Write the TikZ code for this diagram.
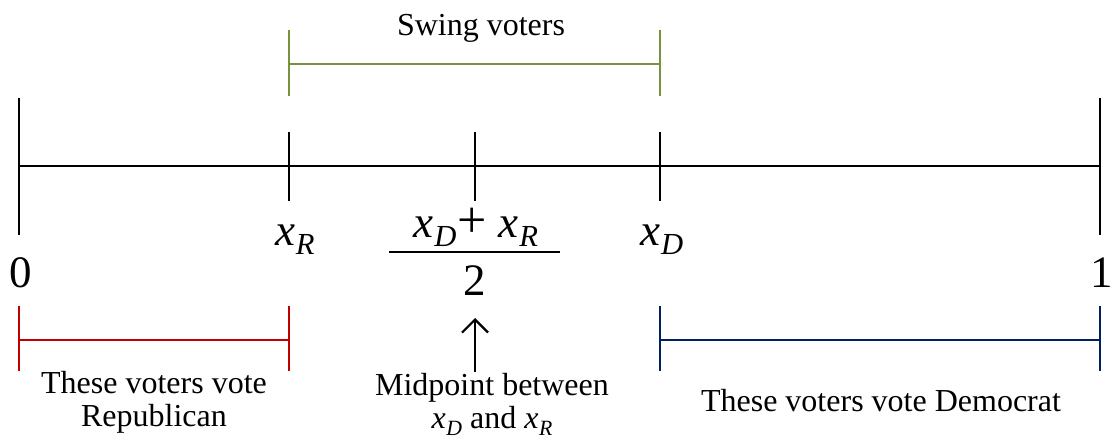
\documentclass[tikz,border=0pt]{standalone}
\usepackage{fontspec}
\setmainfont{Liberation Serif}
\usetikzlibrary{arrows.meta}
\definecolor{swingc}{HTML}{77933C}
\definecolor{repc}{HTML}{C00000}
\definecolor{demc}{HTML}{002060}
\newcommand\varx[2]{{\fontsize{#2}{#2}\selectfont\textit{x}\kern0.5pt\raisebox{-0.22em}{\fontsize{0.68\dimexpr#2pt\relax}{1pt}\selectfont\textit{#1}}}}
\begin{document}
\begin{tikzpicture}[x=1pt,y=-1pt,
  axisline/.style={line width=2.8pt, black},
  bar/.style={line width=2.8pt},
  lbl/.style={font=\fontsize{32}{36}\selectfont, inner sep=0pt, anchor=base},
  mlbl/.style={font=\fontsize{45}{48}\selectfont, inner sep=0pt, anchor=base}]
\useasboundingbox[fill=white] (0,0) rectangle (1114,441);

% axis
\coordinate (a0) at (19,166);
\coordinate (a1) at (1100,166);
\draw[axisline] (a0) -- (a1);
\draw[axisline] (19,98) coordinate (t0a) -- (19,235) coordinate (t0b);
\draw[axisline] (1100,98) coordinate (t1a) -- (1100,235) coordinate (t1b);
\draw[axisline] (289,132) coordinate (tRa) -- (289,201) coordinate (tRb);
\draw[axisline] (475,132) coordinate (tMa) -- (475,201) coordinate (tMb);
\draw[axisline] (660,132) coordinate (tDa) -- (660,201) coordinate (tDb);

% labels on axis
\node[mlbl] (zero) at (21,287) {0};
\node[mlbl] (one) at (1102,287) {1};
\node[inner sep=0pt, anchor=base] (xr) at (295,245) {\varx{R}{45}};
\node[inner sep=0pt, anchor=base] (xd) at (662,245) {\varx{D}{45}};
\node[inner sep=0pt, anchor=base] (num) at (476,237) {\varx{D}{45}\kern1pt{\fontsize{52}{52}\selectfont +}\kern12pt\varx{R}{45}};
\coordinate (barL) at (389,252);
\coordinate (barR) at (560,252);
\draw[line width=2.6pt] (barL) -- (barR);
\node[mlbl] (two) at (475,295) {2};

% swing voters
\coordinate (sL) at (289,64);
\coordinate (sR) at (660,64);
\draw[bar, swingc] (289,30) -- (289,96);
\draw[bar, swingc] (660,30) -- (660,96);
\draw[bar, swingc] (sL) -- (sR);
\node[lbl] (swing) at (481,36) {Swing voters};

% republican
\coordinate (rL) at (19,340);
\coordinate (rR) at (289,340);
\draw[bar, repc] (19,306) -- (19,371);
\draw[bar, repc] (289,306) -- (289,371);
\draw[bar, repc] (rL) -- (rR);
\node[lbl] (rep1) at (154,393) {These voters vote};
\node[lbl] (rep2) at (154,426) {Republican};

% democrat
\coordinate (dL) at (660,340);
\coordinate (dR) at (1100,340);
\draw[bar, demc] (660,306) -- (660,371);
\draw[bar, demc] (1100,306) -- (1100,371);
\draw[bar, demc] (dL) -- (dR);
\node[lbl] (dem) at (881,411) {These voters vote Democrat};

% midpoint
\coordinate (abot) at (475,372);
\coordinate (atop) at (475,318);
\draw[line width=2.2pt, -{Straight Barb[length=13pt,width=26pt,line width=2.2pt]}] (abot) -- (atop);
\node[lbl, text depth=0pt] (mid1) at (492,395) {Midpoint between};
\node[lbl, text height=20pt] (mid2) at (492,428) {\varx{D}{32} and \varx{R}{32}};
\end{tikzpicture}
\end{document}
